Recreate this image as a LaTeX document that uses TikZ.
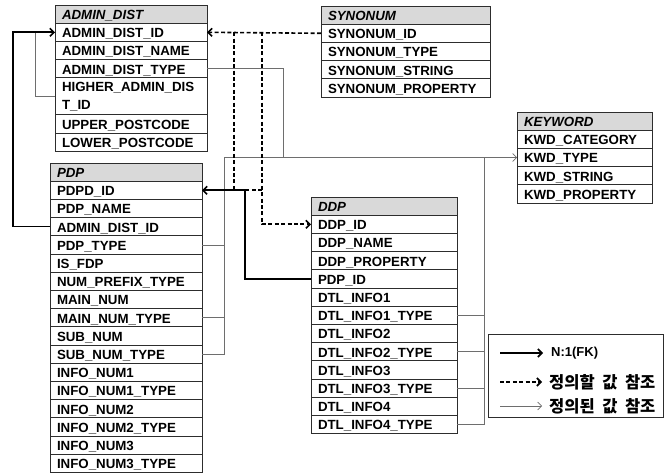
\documentclass[tikz,border=0pt]{standalone}
\usepackage{fontspec}
\setmainfont{Liberation Sans}
\newfontfamily\krfont[WordSpace=2]{Noto Sans CJK KR}
\usepackage{xcolor}
\usepackage{tikz}
\usetikzlibrary{arrows.meta,positioning}
\definecolor{hdgray}{RGB}{217,217,217}
\definecolor{lnblack}{RGB}{45,45,45}
\definecolor{refgray}{RGB}{110,110,110}

\begin{document}
\begin{tikzpicture}[
  x=1pt, y=1pt,
  font=\fontsize{13.3}{18.2}\selectfont\bfseries,
  cell/.style={draw=lnblack, line width=0.8pt, outer sep=0pt, inner xsep=7pt, inner ysep=0pt, align=left},
  fld/.style={cell, minimum height=18.2pt, text height=11.4pt, text depth=0.7pt},
  hd/.style={fld, fill=hdgray, anchor=north west, font=\fontsize{13.3}{18.2}\selectfont\bfseries\itshape},
  wad/.style={text width=138pt},
  wsy/.style={text width=155pt},
  wkw/.style={text width=121pt},
  wpd/.style={text width=138pt},
  wdd/.style={text width=132pt},
  fk/.style={line width=1.6pt, -{Straight Barb[length=4pt,width=8pt]}},
  tobedef/.style={line width=1.6pt, dash pattern=on 4pt off 2.4pt},
  defd/.style={draw=refgray, line width=0.7pt},
  tip/.style={-{Straight Barb[length=4pt,width=8pt]}},
  lg/.style={inner sep=0pt, anchor=west},
]
\useasboundingbox (0,0) rectangle (672,-473);

% ADMIN_DIST
\node[hd, wad] (ad0) at (55,-5) {ADMIN\_DIST};
\node[fld, wad, below=0pt of ad0] (ad1) {ADMIN\_DIST\_ID};
\node[fld, wad, below=0pt of ad1] (ad2) {ADMIN\_DIST\_NAME};
\node[fld, wad, below=0pt of ad2] (ad3) {ADMIN\_DIST\_TYPE};
\node[cell, wad, minimum height=37pt, below=0pt of ad3] (ad4) {HIGHER\_ADMIN\_DIS\\T\_ID};
\node[fld, wad, below=0pt of ad4] (ad5) {UPPER\_POSTCODE};
\node[fld, wad, below=0pt of ad5] (ad6) {LOWER\_POSTCODE};

% SYNONUM
\node[hd, wsy] (syn0) at (321,-6) {SYNONUM};
\node[fld, wsy, below=0pt of syn0] (syn1) {SYNONUM\_ID};
\node[fld, wsy, below=0pt of syn1] (syn2) {SYNONUM\_TYPE};
\node[fld, wsy, below=0pt of syn2] (syn3) {SYNONUM\_STRING};
\node[fld, wsy, below=0pt of syn3] (syn4) {SYNONUM\_PROPERTY};

% KEYWORD
\node[hd, wkw] (kw0) at (517,-112) {KEYWORD};
\node[fld, wkw, below=0pt of kw0] (kw1) {KWD\_CATEGORY};
\node[fld, wkw, below=0pt of kw1] (kw2) {KWD\_TYPE};
\node[fld, wkw, below=0pt of kw2] (kw3) {KWD\_STRING};
\node[fld, wkw, below=0pt of kw3] (kw4) {KWD\_PROPERTY};

% PDP
\node[hd, wpd] (pdp0) at (50,-163) {PDP};
\node[fld, wpd, below=0pt of pdp0] (pdp1) {PDPD\_ID};
\node[fld, wpd, below=0pt of pdp1] (pdp2) {PDP\_NAME};
\node[fld, wpd, below=0pt of pdp2] (pdp3) {ADMIN\_DIST\_ID};
\node[fld, wpd, below=0pt of pdp3] (pdp4) {PDP\_TYPE};
\node[fld, wpd, below=0pt of pdp4] (pdp5) {IS\_FDP};
\node[fld, wpd, below=0pt of pdp5] (pdp6) {NUM\_PREFIX\_TYPE};
\node[fld, wpd, below=0pt of pdp6] (pdp7) {MAIN\_NUM};
\node[fld, wpd, below=0pt of pdp7] (pdp8) {MAIN\_NUM\_TYPE};
\node[fld, wpd, below=0pt of pdp8] (pdp9) {SUB\_NUM};
\node[fld, wpd, below=0pt of pdp9] (pdp10) {SUB\_NUM\_TYPE};
\node[fld, wpd, below=0pt of pdp10] (pdp11) {INFO\_NUM1};
\node[fld, wpd, below=0pt of pdp11] (pdp12) {INFO\_NUM1\_TYPE};
\node[fld, wpd, below=0pt of pdp12] (pdp13) {INFO\_NUM2};
\node[fld, wpd, below=0pt of pdp13] (pdp14) {INFO\_NUM2\_TYPE};
\node[fld, wpd, below=0pt of pdp14] (pdp15) {INFO\_NUM3};
\node[fld, wpd, below=0pt of pdp15] (pdp16) {INFO\_NUM3\_TYPE};

% DDP
\node[hd, wdd] (ddp0) at (311,-197) {DDP};
\node[fld, wdd, below=0pt of ddp0] (ddp1) {DDP\_ID};
\node[fld, wdd, below=0pt of ddp1] (ddp2) {DDP\_NAME};
\node[fld, wdd, below=0pt of ddp2] (ddp3) {DDP\_PROPERTY};
\node[fld, wdd, below=0pt of ddp3] (ddp4) {PDP\_ID};
\node[fld, wdd, below=0pt of ddp4] (ddp5) {DTL\_INFO1};
\node[fld, wdd, below=0pt of ddp5] (ddp6) {DTL\_INFO1\_TYPE};
\node[fld, wdd, below=0pt of ddp6] (ddp7) {DTL\_INFO2};
\node[fld, wdd, below=0pt of ddp7] (ddp8) {DTL\_INFO2\_TYPE};
\node[fld, wdd, below=0pt of ddp8] (ddp9) {DTL\_INFO3};
\node[fld, wdd, below=0pt of ddp9] (ddp10) {DTL\_INFO3\_TYPE};
\node[fld, wdd, below=0pt of ddp10] (ddp11) {DTL\_INFO4};
\node[fld, wdd, below=0pt of ddp11] (ddp12) {DTL\_INFO4\_TYPE};

% legend
\node[draw=lnblack, line width=0.8pt, inner sep=0pt, anchor=north west, minimum width=175pt, minimum height=83pt] (lgd) at (488,-334) {};
\node[lg, font=\fontsize{13}{15}\selectfont\bfseries] (lg1) at (551,-353) {N:1(FK)};
\node[lg, font=\fontsize{16.5}{18}\selectfont\krfont\bfseries] (lg2) at (549,-382) {정의할 값 참조};
\node[lg, font=\fontsize{16.5}{18}\selectfont\krfont\bfseries] (lg3) at (549,-406) {정의된 값 참조};

% helper x positions
\coordinate (dA) at ([xshift=27pt]ad1.east);
\coordinate (dB) at ([xshift=55pt]ad1.east);
\coordinate (tA) at ([xshift=76pt]ad3.east);
\coordinate (tC) at ([xshift=27pt]ddp12.east);

% defined-value references
\draw[defd] (ad4.west) -- ++(-20,0) |- (ad1.west);
\draw[defd] (ad3.east) -| (tA |- kw2.west);
\draw[defd, tip] (pdp10.east) -- ++(22,0) |- (kw2.west);
\draw[defd] (pdp4.east) -- ++(22,0);
\draw[defd] (pdp8.east) -- ++(22,0);
\draw[defd] (ddp12.east) -- (tC) -- (tC |- kw2.west);
\draw[defd] (ddp6.east) -- (ddp6.east -| tC);
\draw[defd] (ddp8.east) -- (ddp8.east -| tC);
\draw[defd] (ddp10.east) -- (ddp10.east -| tC);

% values to be defined
\draw[tobedef, tip] (syn1.west) -- (ad1.east);
\draw[tobedef] (dA) -- (dA |- pdp1.east);
\draw[tobedef, tip] (dB) |- (ddp1.west);
\draw[tobedef] (dB |- pdp1.east) -- ++(-17,0);

% foreign keys
\draw[fk] (pdp3.west) -- ++(-37,0) |- (ad1.west);
\draw[fk] (ddp4.west) -- ++(-66,0) |- (pdp1.east);

% legend arrows
\draw[fk] ([xshift=-51pt]lg1.west) -- ([xshift=-8pt]lg1.west);
\draw[tobedef, tip] ([xshift=-49pt]lg2.west) -- ([xshift=-7pt]lg2.west);
\draw[defd, tip] ([xshift=-49pt]lg3.west) -- ([xshift=-7pt]lg3.west);
\end{tikzpicture}
\end{document}
